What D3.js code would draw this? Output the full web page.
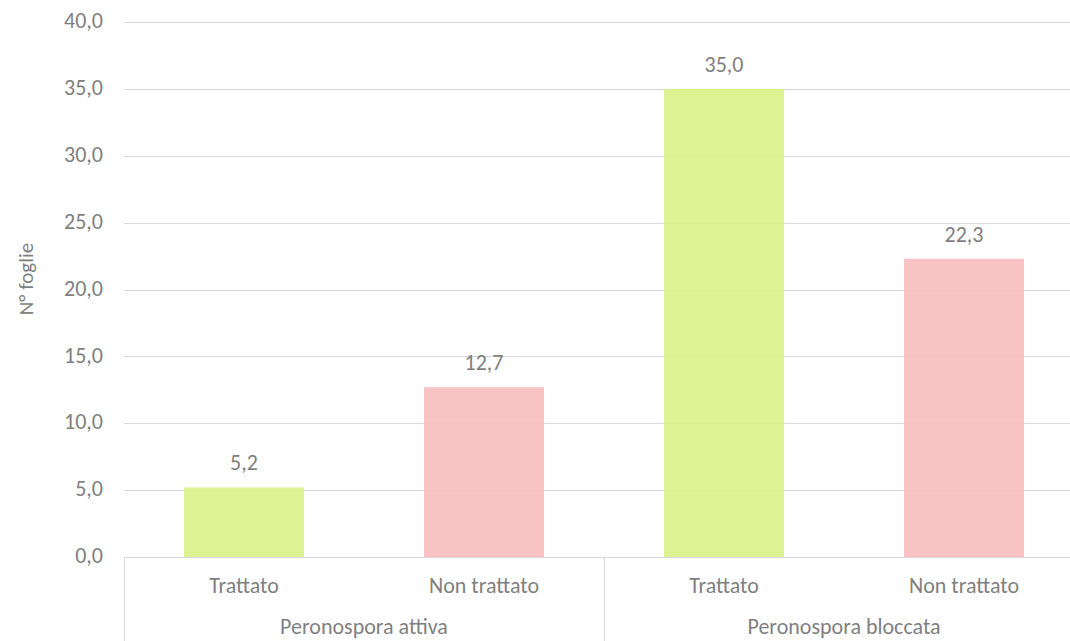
<!DOCTYPE html>
<html>
<head>
<meta charset="utf-8">
<script src="https://cdn.jsdelivr.net/npm/d3@7"></script>
<style>
  body { margin: 0; background: #fff; }
  svg text { font-family: Carlito, Calibri, "Open Sans", sans-serif; fill: #7f7f7f; }
</style>
</head>
<body>
<svg id="chart" width="1070" height="641"></svg>
<script>
// data
var groups = ['Peronospora attiva', 'Peronospora bloccata'];
var treatments = ['Trattato', 'Non trattato'];
var values = [5.2, 12.7, 35.0, 22.3];
var colors = ['#d9f18a', '#f8bebe'];
var yTicks = [0, 5, 10, 15, 20, 25, 30, 35, 40];

var svg = d3.select('#chart');
var margin = { left: 124, right: -14, top: 22, bottom: 84 };
var width = 1070 - margin.left - margin.right,
    height = 641 - margin.top - margin.bottom;

var fmt = function(v) { return d3.format('.1f')(v).replace('.', ','); };

var bars = [];
groups.forEach(function(g, gi) {
  treatments.forEach(function(t, ti) {
    bars.push({ key: gi + '-' + ti, group: g, treat: t, ti: ti, value: values[gi * 2 + ti] });
  });
});

var x = d3.scaleBand().domain(bars.map(function(d) { return d.key; }))
  .range([0, width]).paddingInner(0.5).paddingOuter(0.25);
var y = d3.scaleLinear().domain([0, 40]).range([height, 0]);

var g = svg.append('g').attr('transform', 'translate(' + margin.left + ',' + margin.top + ')');

// gridlines
g.append('g').selectAll('line').data(yTicks.slice(1)).enter().append('line')
  .attr('x1', 0).attr('x2', width)
  .attr('y1', function(d) { return Math.round(y(d)) + 0.5; })
  .attr('y2', function(d) { return Math.round(y(d)) + 0.5; })
  .attr('stroke', '#d9d9d9').attr('stroke-width', 1);

// y tick labels
g.append('g').selectAll('text').data(yTicks).enter().append('text')
  .attr('x', -21).attr('y', function(d) { return y(d); })
  .attr('dy', '0.28em').attr('text-anchor', 'end')
  .style('font-size', '22px').text(fmt);

// bars
g.append('g').selectAll('rect').data(bars).enter().append('rect')
  .attr('x', function(d) { return x(d.key); })
  .attr('width', x.bandwidth())
  .attr('y', function(d) { return y(d.value); })
  .attr('height', function(d) { return height - y(d.value); })
  .attr('fill', function(d) { return colors[d.ti]; })
  .attr('fill-opacity', 0.92);

// value labels
g.append('g').selectAll('text').data(bars).enter().append('text')
  .attr('x', function(d) { return x(d.key) + x.bandwidth() / 2; })
  .attr('y', function(d) { return y(d.value) - 17; })
  .attr('text-anchor', 'middle')
  .style('font-size', '22px')
  .text(function(d) { return fmt(d.value); });

// x axis line and group separators
var step = x.step();
g.append('line').attr('x1', 0).attr('x2', width)
  .attr('y1', height + 0.5).attr('y2', height + 0.5)
  .attr('stroke', '#d9d9d9');
[0, 2 * step].forEach(function(px) {
  g.append('line').attr('x1', px + 0.5).attr('x2', px + 0.5)
    .attr('y1', height).attr('y2', height + margin.bottom)
    .attr('stroke', '#d9d9d9');
});

// category labels
g.append('g').selectAll('text').data(bars).enter().append('text')
  .attr('x', function(d) { return x(d.key) + x.bandwidth() / 2; })
  .attr('y', height + 36)
  .attr('text-anchor', 'middle')
  .style('font-size', '22px')
  .text(function(d) { return d.treat; });

// group labels
g.append('g').selectAll('text').data(groups).enter().append('text')
  .attr('x', function(d, i) { return step * (2 * i + 1); })
  .attr('y', height + 77)
  .attr('text-anchor', 'middle')
  .style('font-size', '22px')
  .text(function(d) { return d; });

// y axis title
svg.append('text')
  .attr('transform', 'translate(33,279) rotate(-90)')
  .attr('text-anchor', 'middle')
  .style('font-size', '21px')
  .text('N° foglie');
</script>
</body>
</html>
